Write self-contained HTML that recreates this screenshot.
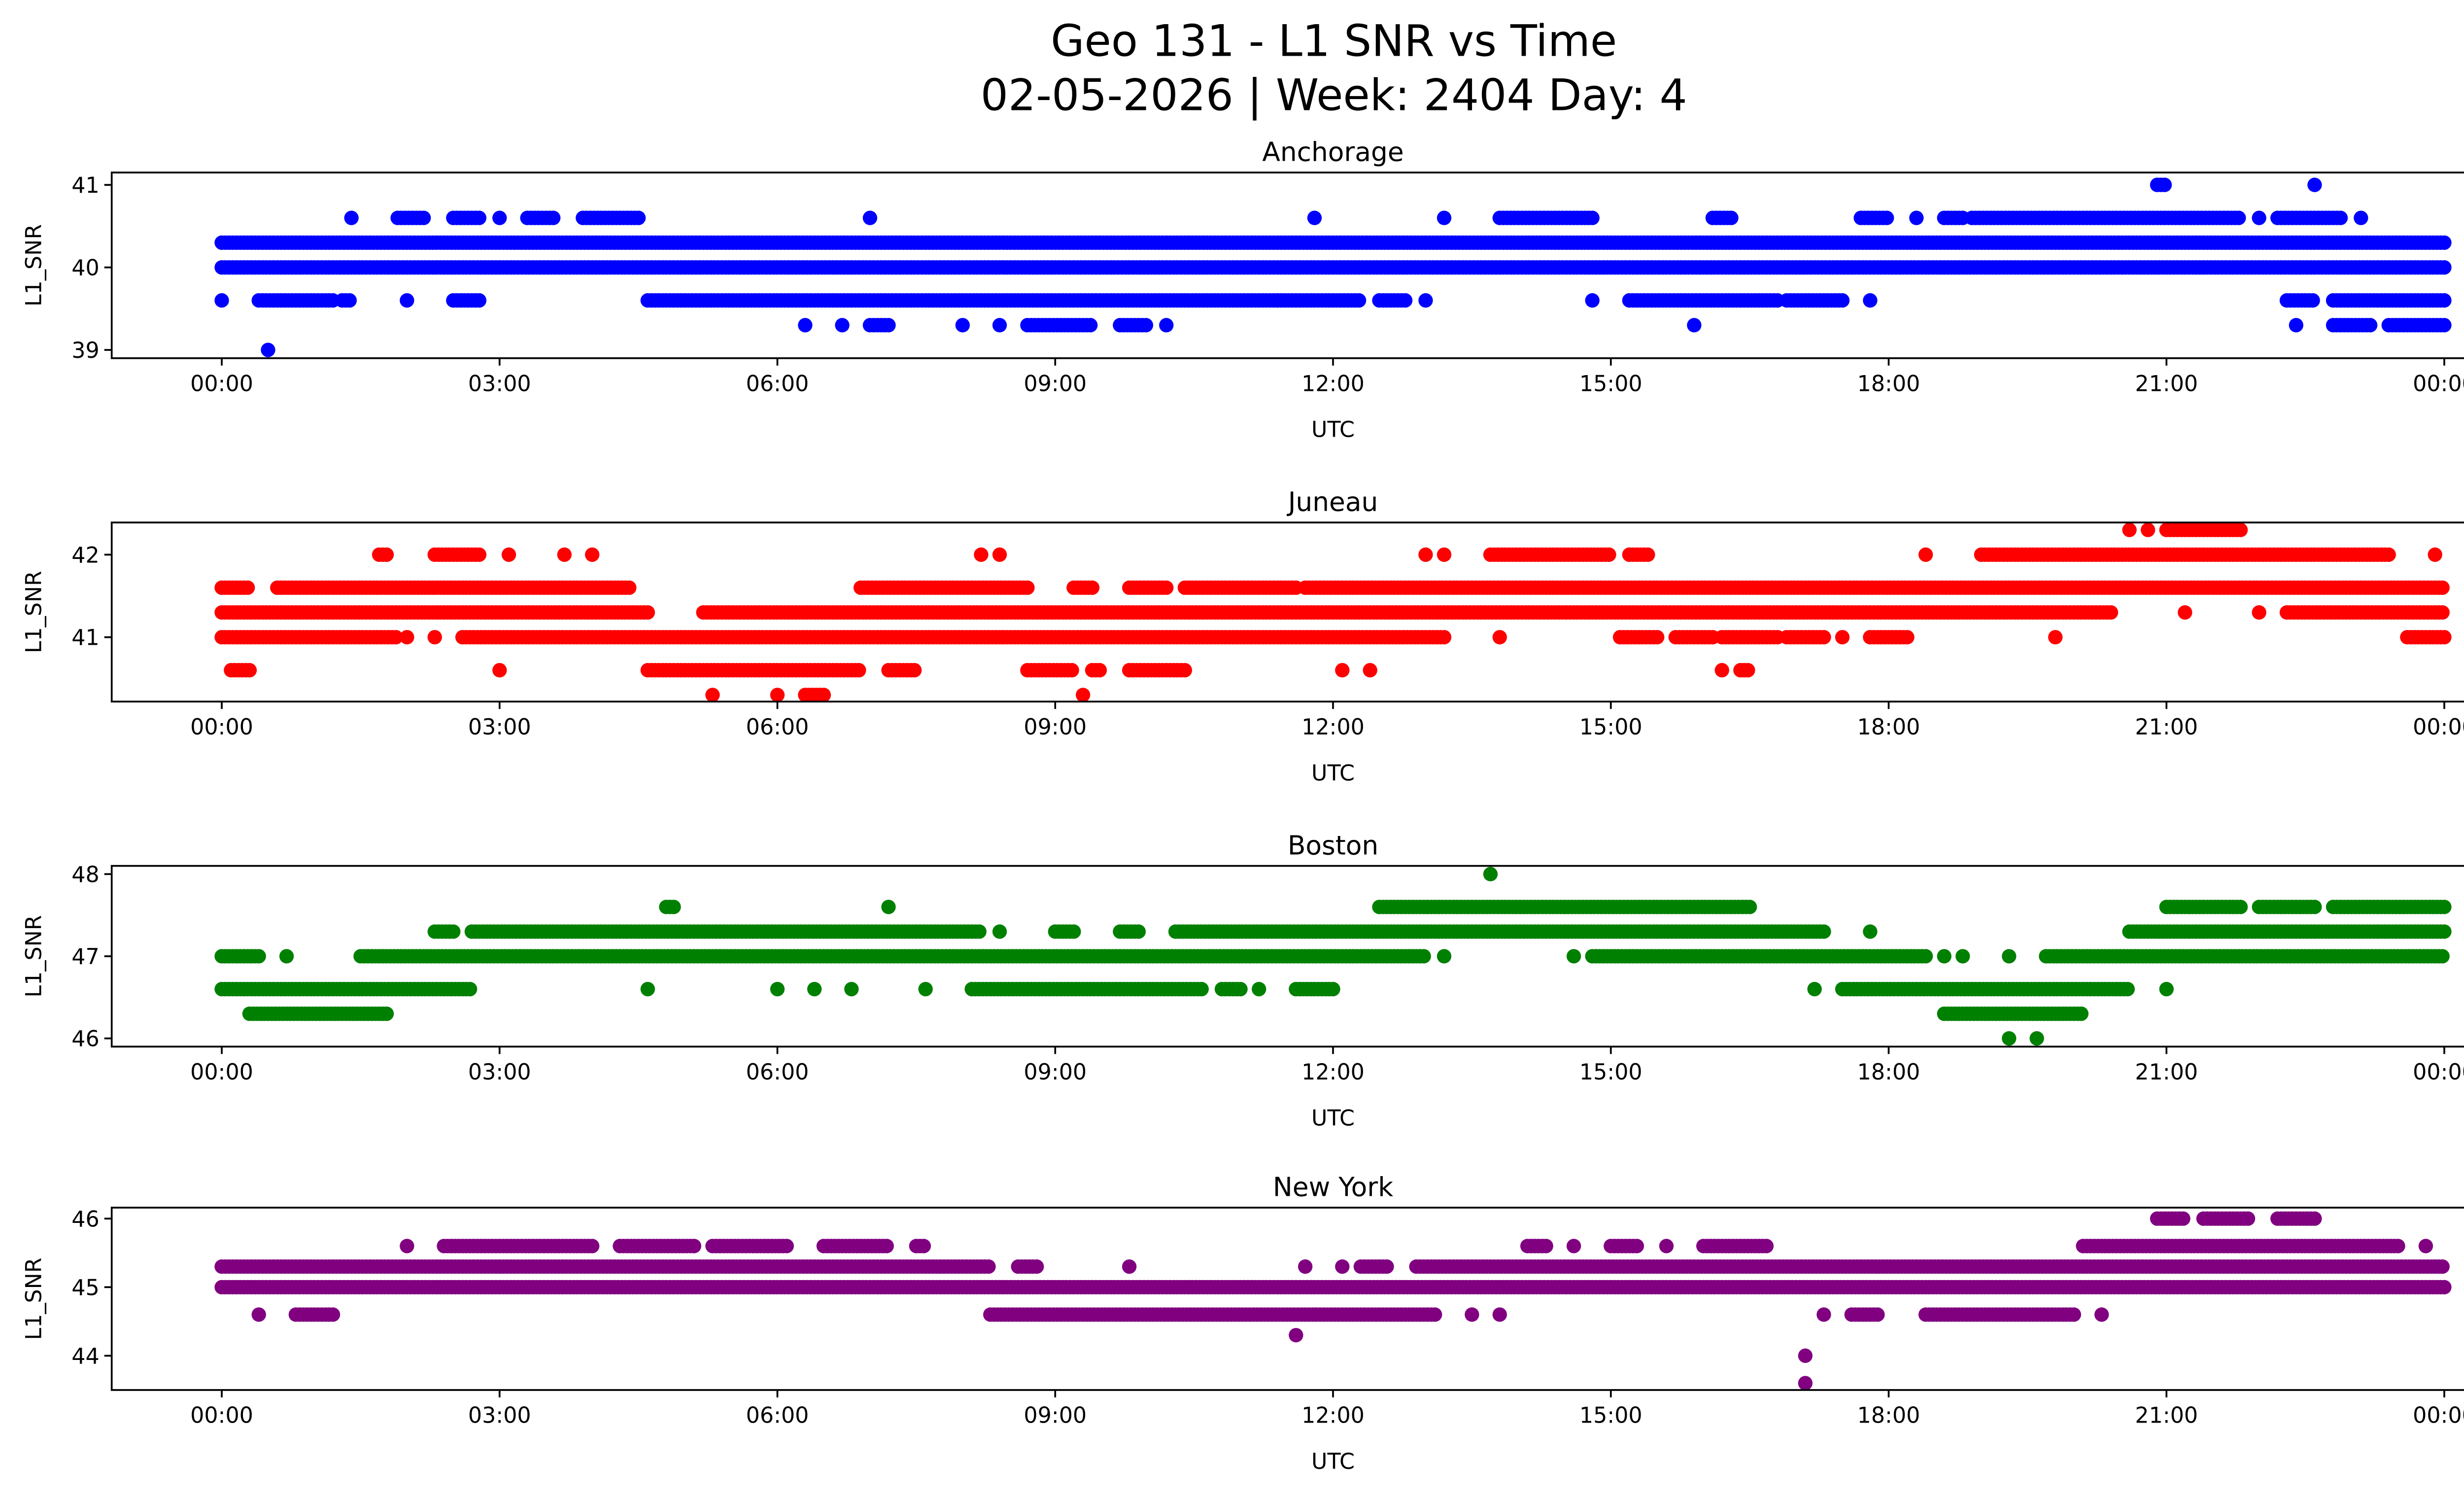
<!DOCTYPE html>
<html><head><meta charset="utf-8">
<style>
html,body{margin:0;padding:0;background:#fff;}
svg{display:block;}
text{font-family:"DejaVu Sans","Liberation Sans",sans-serif;fill:#000;}
</style></head>
<body>
<svg id="fig" width="5225" height="3033" viewBox="0 0 1567.5 909.9" xmlns="http://www.w3.org/2000/svg">
<rect x="0" y="0" width="1567.5" height="909.9" fill="#fff"/>
<text x="812" y="34" font-size="26.5" text-anchor="middle">Geo 131 - L1 SNR vs Time</text>
<text x="812" y="67" font-size="26.5" text-anchor="middle">02-05-2026 | Week: 2404 Day: 4</text>
</svg>
<script>
// Runs: [startHour, endHour, value]; single points have start == end
const anchorageRuns = [
 [0,24,40.3],[0,24,40.0],
 [0,0,39.6],[0.4,1.2,39.6],[1.3,1.4,39.6],[2.0,2.0,39.6],[2.5,2.8,39.6],[4.6,11.4,39.6],[11.4,12.3,39.6],[12.5,12.8,39.6],[13.0,13.0,39.6],[14.8,14.8,39.6],[15.2,16.8,39.6],[16.9,17.5,39.6],[17.8,17.8,39.6],[22.3,22.6,39.6],[22.8,24,39.6],
 [1.4,1.4,40.6],[1.9,2.2,40.6],[2.5,2.8,40.6],[3.0,3.0,40.6],[3.3,3.6,40.6],[3.9,4.5,40.6],[7.0,7.0,40.6],[11.8,11.8,40.6],[13.2,13.2,40.6],[13.8,14.8,40.6],[16.1,16.3,40.6],[17.7,18.0,40.6],[18.3,18.3,40.6],[18.6,18.8,40.6],[18.9,21.8,40.6],[22.0,22.0,40.6],[22.2,22.9,40.6],[23.1,23.1,40.6],
 [0.5,0.5,39.0],[6.3,6.3,39.3],[6.7,6.7,39.3],[7.0,7.2,39.3],[8.0,8.0,39.3],[8.4,8.4,39.3],[8.7,9.4,39.3],[9.7,10.0,39.3],[10.2,10.2,39.3],[15.9,15.9,39.3],[22.4,22.4,39.3],[22.8,23.2,39.3],[23.4,24,39.3],
 [20.9,21.0,41.0],[22.6,22.6,41.0]
];
const juneauRuns = [
 [0,0.3,41.6],[0.6,4.4,41.6],[6.9,8.7,41.6],[9.2,9.4,41.6],[9.8,10.2,41.6],[10.4,11.6,41.6],[11.7,24,41.6],
 [0,4.6,41.3],[5.2,20.4,41.3],[21.2,21.2,41.3],[22.0,22.0,41.3],[22.3,24,41.3],
 [0,1.9,41.0],[2.0,2.0,41.0],[2.3,2.3,41.0],[2.6,13.2,41.0],[13.8,13.8,41.0],[15.1,15.5,41.0],[15.7,16.1,41.0],[16.2,16.8,41.0],[16.9,17.3,41.0],[17.5,17.5,41.0],[17.8,18.2,41.0],[19.8,19.8,41.0],[23.6,24,41.0],
 [1.7,1.8,42.0],[2.3,2.8,42.0],[3.1,3.1,42.0],[3.7,3.7,42.0],[4.0,4.0,42.0],[8.2,8.2,42.0],[8.4,8.4,42.0],[13.0,13.0,42.0],[13.2,13.2,42.0],[13.7,15.0,42.0],[15.2,15.4,42.0],[18.4,18.4,42.0],[19.0,23.4,42.0],[23.9,23.9,42.0],
 [0.1,0.3,40.6],[3.0,3.0,40.6],[4.6,6.9,40.6],[7.2,7.5,40.6],[8.7,9.2,40.6],[9.4,9.5,40.6],[9.8,10.4,40.6],[12.1,12.1,40.6],[12.4,12.4,40.6],[16.2,16.2,40.6],[16.4,16.5,40.6],
 [5.3,5.3,40.3],[6.0,6.0,40.3],[6.3,6.5,40.3],[9.3,9.3,40.3],
 [20.6,20.6,42.3],[20.8,20.8,42.3],[21.0,21.8,42.3]
];
const bostonRuns = [
 [0,0.4,47.0],[0.7,0.7,47.0],[1.5,13.0,47.0],[13.2,13.2,47.0],[14.6,14.6,47.0],[14.8,18.4,47.0],[18.6,18.6,47.0],[18.8,18.8,47.0],[19.3,19.3,47.0],[19.7,24,47.0],
 [0,2.7,46.6],[4.6,4.6,46.6],[6.0,6.0,46.6],[6.4,6.4,46.6],[6.8,6.8,46.6],[7.6,7.6,46.6],[8.1,10.6,46.6],[10.8,11.0,46.6],[11.2,11.2,46.6],[11.6,12.0,46.6],[17.2,17.2,46.6],[17.5,20.6,46.6],[21.0,21.0,46.6],
 [0.3,1.8,46.3],[18.6,20.1,46.3],
 [19.3,19.3,46.0],[19.6,19.6,46.0],
 [2.3,2.5,47.3],[2.7,8.2,47.3],[8.4,8.4,47.3],[9.0,9.2,47.3],[9.7,9.9,47.3],[10.3,17.3,47.3],[17.8,17.8,47.3],[20.6,24,47.3],
 [4.8,4.9,47.6],[7.2,7.2,47.6],[12.5,16.5,47.6],[21.0,21.8,47.6],[22.0,22.6,47.6],[22.8,24,47.6],
 [13.7,13.7,48.0]
];
const newyorkRuns = [
 [0,8.3,45.3],[8.6,8.8,45.3],[9.8,9.8,45.3],[11.7,11.7,45.3],[12.1,12.1,45.3],[12.3,12.6,45.3],[12.9,24,45.3],
 [0,24,45.0],
 [0.4,0.4,44.6],[0.8,1.2,44.6],[8.3,13.1,44.6],[13.5,13.5,44.6],[13.8,13.8,44.6],[17.3,17.3,44.6],[17.6,17.9,44.6],[18.4,20.0,44.6],[20.3,20.3,44.6],
 [2.0,2.0,45.6],[2.4,4.0,45.6],[4.3,5.1,45.6],[5.3,6.1,45.6],[6.5,7.2,45.6],[7.5,7.6,45.6],[14.1,14.3,45.6],[14.6,14.6,45.6],[15.0,15.3,45.6],[15.6,15.6,45.6],[16.0,16.7,45.6],[20.1,23.5,45.6],[23.8,23.8,45.6],
 [20.9,21.2,46.0],[21.4,21.9,46.0],[22.2,22.6,46.0],
 [11.6,11.6,44.3],[17.1,17.1,44.0],[17.1,17.1,43.6]
];
const panelTitles = ["Anchorage","Juneau","Boston","New York"];
const panelColors = ["#0000ff","#ff0000","#008000","#800080"];
const yTicksA = [39,40,41];
const yTicksJ = [41,42];
const yTicksB = [46,47,48];
const yTicksN = [44,45,46];
const xTickHours = [0,3,6,9,12,15,18,21,24];
const xTickLabels = ["00:00","03:00","06:00","09:00","12:00","15:00","18:00","21:00","00:00"];

const NS="http://www.w3.org/2000/svg";
const svg=document.getElementById('fig');
function mk(tag,attrs,parent){const e=document.createElementNS(NS,tag);for(const k in attrs)e.setAttribute(k,attrs[k]);(parent||svg).appendChild(e);return e;}

const L=68,R=1555;
const panels=[
 {runs:anchorageRuns,ticks:yTicksA,top:105,bot:218,ymin:38.9,ymax:41.15,slug:'anchorage'},
 {runs:juneauRuns,ticks:yTicksJ,top:318,bot:427,ymin:40.22,ymax:42.39,slug:'juneau'},
 {runs:bostonRuns,ticks:yTicksB,top:527,bot:637,ymin:45.9,ymax:48.1,slug:'boston'},
 {runs:newyorkRuns,ticks:yTicksN,top:735,bot:846,ymin:43.5,ymax:46.16,slug:'new-york'}
];
function xs(h){return 135+(h/24)*1353;}

panels.forEach((p,i)=>{
 const ys=v=>p.bot-(v-p.ymin)/(p.ymax-p.ymin)*(p.bot-p.top);
 const g=mk('g',{});
 
 
 const marks=mk('g',{fill:panelColors[i]},g);
 
 
 p.runs.forEach(r=>{
  const step=0.04;
  for(let h=r[0];h<=r[1]+1e-9;h+=step){
   const c=mk('circle',{cx:xs(h).toFixed(2),cy:ys(r[2]).toFixed(2),r:4.4},marks);
   
   
  }
 });
 const frame=mk('rect',{x:L,y:p.top,width:R-L,height:p.bot-p.top,fill:'none',stroke:'#000','stroke-width':1.1},g);
 
 
 p.ticks.forEach(t=>{
  const y=ys(t);
  mk('line',{x1:L-4.5,x2:L,y1:y,y2:y,stroke:'#000','stroke-width':1.1},g);
  const tx=mk('text',{x:L-7.5,y:y+4.8,'font-size':13.3,'text-anchor':'end'},g);
  tx.textContent=t;
  
  
 });
 xTickHours.forEach((h,k)=>{
  const x=xs(h);
  mk('line',{x1:x,x2:x,y1:p.bot,y2:p.bot+4.5,stroke:'#000','stroke-width':1.1},g);
  const tx=mk('text',{x:x,y:p.bot+20,'font-size':13.3,'text-anchor':'middle'},g);
  tx.textContent=xTickLabels[k];
  
  
 });
 const xl=mk('text',{x:(L+R)/2,y:p.bot+48,'font-size':13.3,'text-anchor':'middle'},g);
 xl.textContent='UTC';
 
 
 const cy=(p.top+p.bot)/2;
 const yl=mk('text',{x:0,y:0,'font-size':13.3,'text-anchor':'middle',transform:`translate(25,${cy}) rotate(-90)`},g);
 yl.textContent='L1_SNR';
 
 
 const tt=mk('text',{x:(L+R)/2,y:p.top-7,'font-size':16,'text-anchor':'middle'},g);
 tt.textContent=panelTitles[i];
 
 
});
</script>
</body></html>
